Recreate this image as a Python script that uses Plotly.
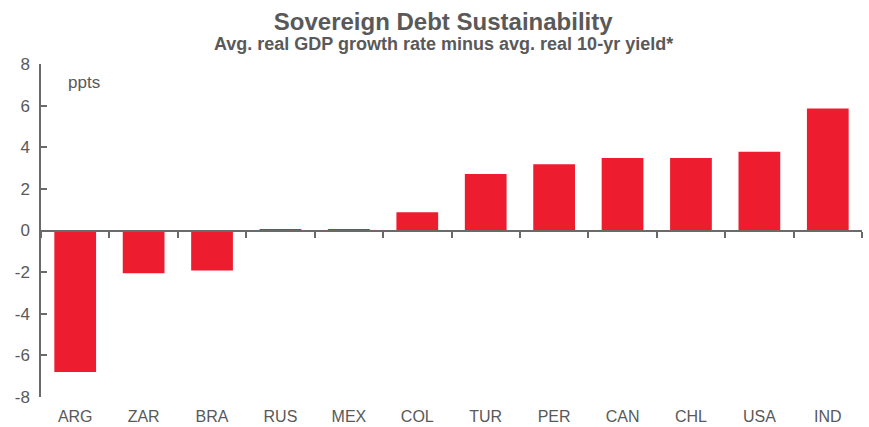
import plotly.graph_objects as go

countries = ["ARG", "ZAR", "BRA", "RUS", "MEX", "COL", "TUR", "PER", "CAN", "CHL", "USA", "IND"]
values = [-6.8, -2.05, -1.92, 0.04, 0.04, 0.88, 2.72, 3.18, 3.48, 3.48, 3.78, 5.86]
y_ticks = [-8, -6, -4, -2, 0, 2, 4, 6, 8]
y_tick_labels = ["-8", "-6", "-4", "-2", "0", "2", "4", "6", "8"]

GRAY = "#595959"
RED = "#ED1C2E"
FONT = "Liberation Sans, Arial, sans-serif"

fig = go.Figure()
fig.add_trace(go.Bar(x=countries, y=values, marker=dict(color=RED, line=dict(width=0)),
                     xaxis="x", yaxis="y", showlegend=False, hoverinfo="x+y"))
# invisible trace for the zero-line axis (ticks between categories)
fig.add_trace(go.Scatter(x=countries, y=[0] * len(countries), mode="markers",
                         marker=dict(opacity=0), xaxis="x2", yaxis="y",
                         showlegend=False, hoverinfo="skip"))

fig.update_layout(
    width=869, height=427,
    margin=dict(l=41, r=7, t=64, b=30, autoexpand=False),
    paper_bgcolor="white", plot_bgcolor="white",
    font=dict(family=FONT, color=GRAY, size=16),
    bargap=0.39,
    title=dict(
        text="<b>Sovereign Debt Sustainability</b>",
        x=0.51, xanchor="center", y=0.95, yanchor="middle", automargin=False,
        font=dict(family=FONT, size=24, color=GRAY),
    ),
    xaxis=dict(type="category", categoryorder="array", categoryarray=countries,
               range=[-0.5, 11.5], showline=False, ticks="", showgrid=False,
               zeroline=False, automargin=False,
               tickfont=dict(size=16, color=GRAY), ticklabelstandoff=8),
    xaxis2=dict(type="category", categoryorder="array", categoryarray=countries,
                range=[-0.5, 11.5], overlaying="x", anchor="free", position=0.5,
                showline=True, linecolor="#6a6a6a", linewidth=2, automargin=False,
                ticks="outside", tickson="boundaries", ticklen=6, tickwidth=1.5,
                tickcolor="#6a6a6a", showticklabels=False, showgrid=False, zeroline=False),
    yaxis=dict(range=[-8, 8], tickvals=y_ticks, ticktext=y_tick_labels,
               showgrid=False, zeroline=False, automargin=False,
               showline=True, linecolor="#6a6a6a", linewidth=1.5,
               ticks="inside", ticklen=6, tickwidth=1.5, tickcolor="#6a6a6a",
               tickfont=dict(size=17, color=GRAY), ticklabelstandoff=6),
    annotations=[
        dict(text="<b>Avg. real GDP growth rate minus avg. real 10-yr yield*</b>",
             xref="paper", yref="paper", x=0.49, y=1.0 + 20 / 333,
             xanchor="center", yanchor="middle", showarrow=False,
             font=dict(size=18, color=GRAY, family=FONT)),
        dict(text="ppts", xref="paper", yref="paper", x=0.031, y=0.978,
             xanchor="left", yanchor="top", showarrow=False,
             font=dict(size=17, color=GRAY, family=FONT)),
    ],
)

fig.write_html("out.html", config={"displayModeBar": False},
               post_script="document.body.style.margin='0';document.body.style.padding='0';")
